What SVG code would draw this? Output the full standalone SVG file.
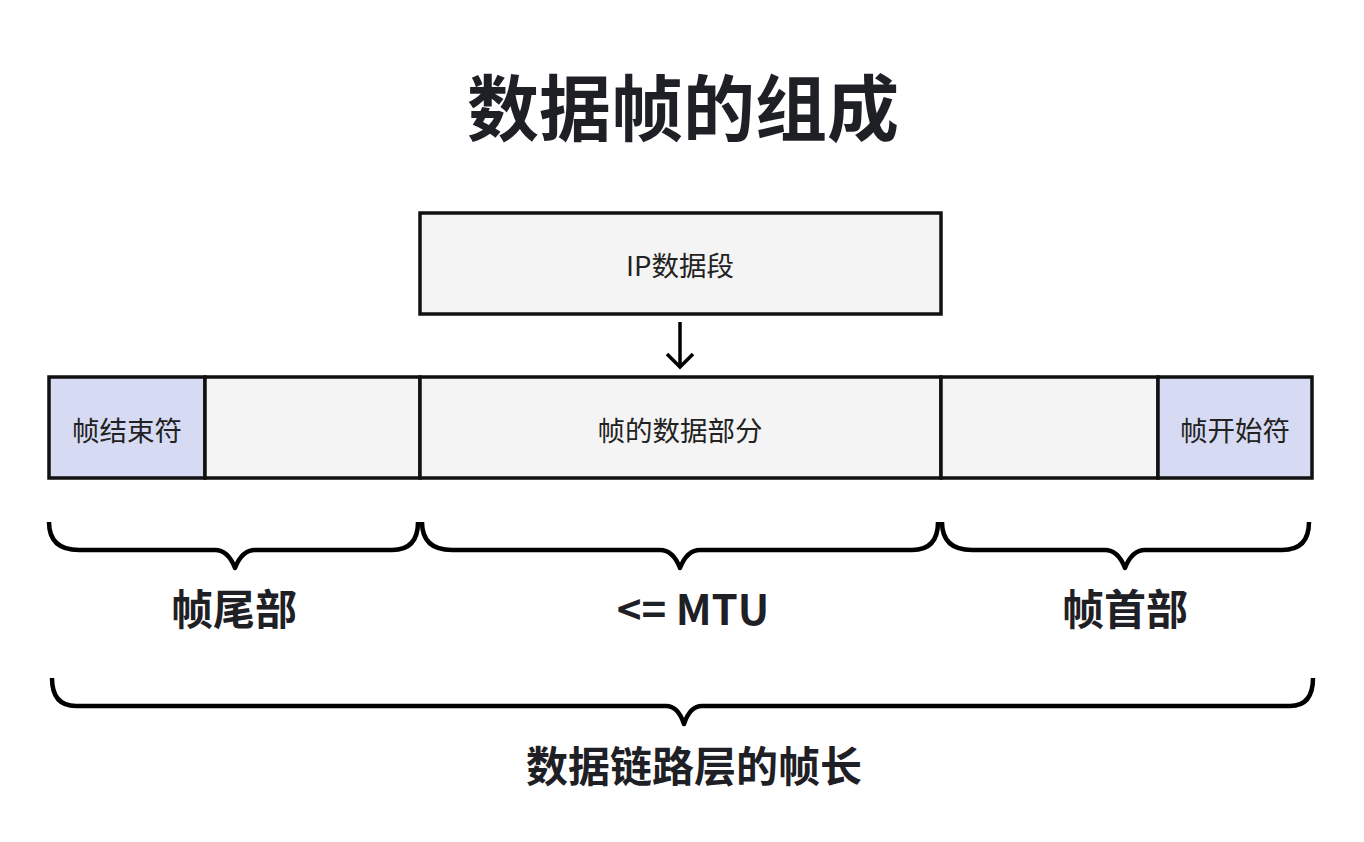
<svg xmlns="http://www.w3.org/2000/svg" width="1364" height="842" viewBox="0 0 1364 842">
<style>
.box{fill:#f4f4f4;stroke:#111;stroke-width:3.5}
.mark{fill:#d6daf2;stroke:#111;stroke-width:3.5}
.t{font-family:"Noto Sans CJK SC","Noto Sans",sans-serif;font-size:27.5px;fill:#222;text-anchor:middle;dominant-baseline:central}
.b{font-family:"Noto Sans CJK SC","Noto Sans",sans-serif;font-weight:bold;fill:#1e2025;text-anchor:middle;dominant-baseline:central}
.brace{fill:none;stroke:#000;stroke-width:4.5;stroke-linejoin:round}
</style>
<rect width="1364" height="842" fill="#fff"/>
<text class="b" x="683" y="103" font-size="72">数据帧的组成</text>
<g id="ip"><rect class="box" x="420" y="213" width="521" height="101"/><text class="t" x="680" y="264">IP数据段</text></g>
<g id="frame">
<g id="tail-mark"><rect class="mark" x="49" y="377" width="156" height="101"/><text class="t" x="127" y="429">帧结束符</text></g>
<g id="tail"><rect class="box" x="205" y="377" width="215" height="101"/></g>
<g id="data"><rect class="box" x="420" y="377" width="521" height="101"/><text class="t" x="680" y="429">帧的数据部分</text></g>
<g id="head"><rect class="box" x="941" y="377" width="217" height="101"/></g>
<g id="head-mark"><rect class="mark" x="1158" y="377" width="154" height="101"/><text class="t" x="1235" y="429">帧开始符</text></g>
</g>
<g id="connectors">
<path d="M680,322 V367 M667,354 L680,367 L693,354" fill="none" stroke="#000" stroke-width="3.5" stroke-linejoin="miter"/>
</g>
<g id="braces">
<path class="brace" d="M49,522 Q49,550 79,550 L215,550 Q228,550 235,568 Q242,550 255,550 L392,550 Q418,550 418,522"/>
<path class="brace" d="M422,522 Q422,550 452,550 L660,550 Q673,550 680,568 Q687,550 700,550 L912,550 Q938,550 938,522"/>
<path class="brace" d="M942,522 Q942,550 972,550 L1105,550 Q1118,550 1125,568 Q1132,550 1145,550 L1282,550 Q1309,550 1309,522"/>
<path class="brace" d="M52,678 Q52,706 76,706 L666,706 Q678,706 684,724 Q690,706 702,706 L1290,706 Q1313,706 1313,678"/>
</g>
<text class="b" x="234" y="606" font-size="42">帧尾部</text>
<text class="b" x="693" y="606" font-size="42">&lt;= MTU</text>
<text class="b" x="1125" y="606" font-size="42">帧首部</text>
<text class="b" x="694" y="763" font-size="42">数据链路层的帧长</text>
</svg>
